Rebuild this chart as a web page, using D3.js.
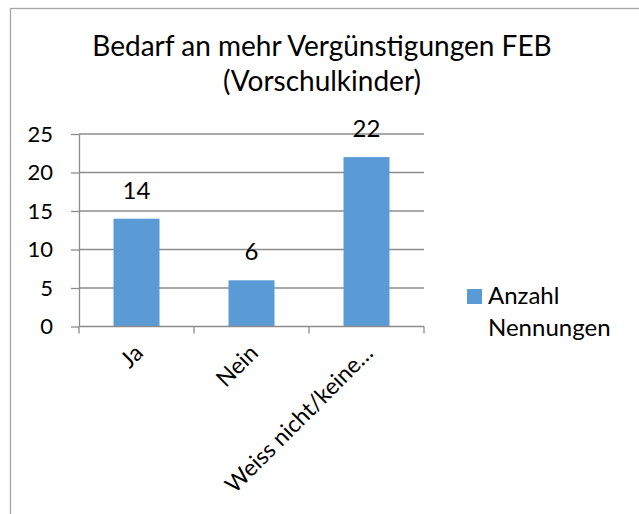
<!DOCTYPE html>
<html>
<head>
<meta charset="utf-8">
<script src="https://cdn.jsdelivr.net/npm/d3@7"></script>
<style>
  body { margin: 0; background: #fff; }
  text { font-family: Lato, "Open Sans", sans-serif; fill: #000; }
</style>
</head>
<body>
<div id="chartContainer"></div>
<script>
  var WIDTH = 639;
  var HEIGHT = 514;

  // data
  var categories = ["Ja", "Nein", "Weiss nicht/keine\u2026"];
  var values = [14, 6, 22];
  var seriesName = ["Anzahl", "Nennungen"];
  var titleLines = ["Bedarf an mehr Vergünstigungen FEB", "(Vorschulkinder)"];
  var yTicks = [0, 5, 10, 15, 20, 25];

  var BAR_COLOR = "#5b9bd5";
  var GRID_COLOR = "#8c8c8c";

  // plot area
  var LEFT = 79, RIGHT = 424, TOP = 134, BOTTOM = 326.5;

  var svg = d3.select("#chartContainer").append("svg")
      .attr("width", WIDTH)
      .attr("height", HEIGHT);

  // chart frame, runs off the right and bottom edge
  svg.append("rect")
      .attr("x", 10.5).attr("y", 8.5)
      .attr("width", 700).attr("height", 600)
      .attr("fill", "none")
      .attr("stroke", "#a6a6a6")
      .attr("stroke-width", 1.3);

  // title
  svg.selectAll(".title")
      .data(titleLines)
      .enter()
      .append("text")
      .attr("class", "title")
      .attr("x", 322)
      .attr("y", function (d, i) { return 56 + i * 35; })
      .attr("text-anchor", "middle")
      .style("font-size", "28px")
      .text(function (d) { return d; });

  var x = d3.scaleBand()
      .domain(categories)
      .range([LEFT, RIGHT])
      .paddingInner(0.6)
      .paddingOuter(0.3);

  var y = d3.scaleLinear()
      .domain([0, 25])
      .range([BOTTOM, TOP]);

  // gridlines
  svg.append("g")
      .selectAll("line")
      .data(yTicks.slice(1))
      .enter()
      .append("line")
      .attr("x1", LEFT).attr("x2", RIGHT)
      .attr("y1", function (d) { return y(d); })
      .attr("y2", function (d) { return y(d); })
      .attr("stroke", GRID_COLOR)
      .attr("stroke-width", 1.3);

  // y axis
  var yAxis = svg.append("g")
      .attr("transform", "translate(" + LEFT + ",0)")
      .call(d3.axisLeft(y).tickValues(yTicks).tickSize(8).tickSizeOuter(0).tickPadding(18));
  yAxis.selectAll("line,path").attr("stroke", GRID_COLOR).attr("stroke-width", 1.3);
  yAxis.selectAll("text")
      .style("font-family", "Lato, sans-serif")
      .style("font-size", "22px")
      .attr("fill", "#000");

  // bars
  svg.append("g")
      .selectAll("rect")
      .data(values)
      .enter()
      .append("rect")
      .attr("x", function (d, i) { return x(categories[i]); })
      .attr("y", function (d) { return y(d); })
      .attr("width", x.bandwidth())
      .attr("height", function (d) { return y(0) - y(d); })
      .attr("fill", BAR_COLOR);

  // x axis line and ticks at category boundaries
  var step = x.step();
  var bounds = d3.range(categories.length + 1).map(function (i) { return LEFT + i * step; });
  svg.append("line")
      .attr("x1", LEFT).attr("x2", RIGHT)
      .attr("y1", y(0)).attr("y2", y(0))
      .attr("stroke", GRID_COLOR)
      .attr("stroke-width", 1.3);
  svg.append("g")
      .selectAll("line")
      .data(bounds)
      .enter()
      .append("line")
      .attr("x1", function (d) { return d; })
      .attr("x2", function (d) { return d; })
      .attr("y1", y(0)).attr("y2", y(0) + 7)
      .attr("stroke", GRID_COLOR)
      .attr("stroke-width", 1.3);

  // rotated category labels
  svg.append("g")
      .selectAll("text")
      .data(categories)
      .enter()
      .append("text")
      .attr("text-anchor", "end")
      .attr("transform", function (d) {
        var cx = x(d) + x.bandwidth() / 2 + 8;
        return "translate(" + cx + "," + (y(0) + 28) + ") rotate(-45)";
      })
      .style("font-size", "23px")
      .text(function (d) { return d; });

  // value labels
  svg.append("g")
      .selectAll("text")
      .data(values)
      .enter()
      .append("text")
      .attr("x", function (d, i) { return x(categories[i]) + x.bandwidth() / 2; })
      .attr("y", function (d) { return y(d) - 20; })
      .attr("text-anchor", "middle")
      .style("font-size", "24px")
      .text(function (d) { return d; });

  // legend
  svg.append("rect")
      .attr("x", 467).attr("y", 289)
      .attr("width", 15).attr("height", 15)
      .attr("fill", BAR_COLOR);
  svg.selectAll(".legend")
      .data(seriesName)
      .enter()
      .append("text")
      .attr("class", "legend")
      .attr("x", 488)
      .attr("y", function (d, i) { return 304 + i * 32; })
      .style("font-size", "24px")
      .text(function (d) { return d; });
</script>
</body>
</html>
